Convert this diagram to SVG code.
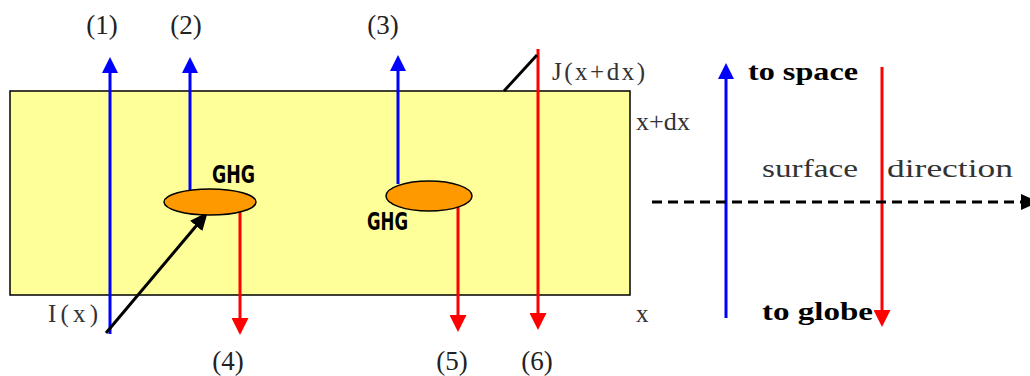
<svg xmlns="http://www.w3.org/2000/svg" width="1030" height="376" viewBox="0 0 1030 376">
<defs>
<style>
.lbl{font-family:"Liberation Serif",serif;font-size:27px;fill:#222;text-anchor:middle}
.ser{font-family:"Liberation Serif",serif;font-size:25px;fill:#333}
.bold{font-family:"Liberation Serif",serif;font-size:26px;font-weight:bold;fill:#000}
.ghg{font-family:"DejaVu Sans Condensed","DejaVu Sans",sans-serif;font-size:25px;font-weight:bold;fill:#000}
.blue{stroke:#0000FF;stroke-width:3;fill:none}
.red{stroke:#FF0000;stroke-width:3;fill:none}
.blk{stroke:#000;stroke-width:3;fill:none}
</style>
<marker id="hb" markerUnits="userSpaceOnUse" markerWidth="16" markerHeight="16" viewBox="0 0 16 16" refX="8" refY="8" orient="auto"><path d="M0,0L16,8L0,16z" fill="#0000FF"/></marker>
<marker id="hr" markerUnits="userSpaceOnUse" markerWidth="17" markerHeight="17" viewBox="0 0 17 17" refX="8" refY="8.5" orient="auto"><path d="M0,0L17,8.5L0,17z" fill="#FF0000"/></marker>
<marker id="hk" markerUnits="userSpaceOnUse" markerWidth="18" markerHeight="16" viewBox="0 0 18 16" refX="9" refY="8" orient="auto"><path d="M0,0L18,8L0,16z" fill="#000"/></marker>
</defs>
<rect width="1030" height="376" fill="#fff"/>
<g id="layer">
<rect x="10" y="91" width="620" height="204" fill="#FFFF99" stroke="#000" stroke-width="1.5"/>
</g>
<g id="connectors">
<line class="blue" x1="110" y1="334" x2="110" y2="65" marker-end="url(#hb)"/>
<line class="blue" x1="190" y1="192" x2="190" y2="65" marker-end="url(#hb)"/>
<line class="blue" x1="398" y1="184" x2="398" y2="63" marker-end="url(#hb)"/>
<line class="red" x1="240" y1="212" x2="240" y2="326" marker-end="url(#hr)"/>
<line class="red" x1="458" y1="205" x2="458" y2="323" marker-end="url(#hr)"/>
<line class="red" x1="538" y1="49" x2="538" y2="321" marker-end="url(#hr)"/>
<line class="blk" x1="106" y1="333" x2="202" y2="219" marker-end="url(#hk)"/>
<line class="blk" x1="504" y1="91" x2="537" y2="55"/>
<line class="blue" x1="726" y1="318" x2="726" y2="71" marker-end="url(#hb)"/>
<line class="red" x1="882" y1="67" x2="882" y2="318" marker-end="url(#hr)"/>
<line class="blk" x1="652" y1="202" x2="1030" y2="202" stroke-dasharray="10,6" marker-end="url(#hk)"/>
</g>
<g id="ghg1">
<ellipse cx="210" cy="202" rx="46" ry="13" fill="#FF9900" stroke="#000" stroke-width="1.5"/>
<text class="ghg" x="212" y="183" textLength="43" lengthAdjust="spacingAndGlyphs">GHG</text>
</g>
<g id="ghg2">
<ellipse cx="429" cy="196" rx="43" ry="15" fill="#FF9900" stroke="#000" stroke-width="1.5"/>
<text class="ghg" x="367" y="230" textLength="41" lengthAdjust="spacingAndGlyphs">GHG</text>
</g>
<g id="labels">
<text class="lbl" x="102" y="34">(1)</text>
<text class="lbl" x="186" y="34">(2)</text>
<text class="lbl" x="383" y="34">(3)</text>
<text class="lbl" x="228" y="370">(4)</text>
<text class="lbl" x="452" y="370">(5)</text>
<text class="lbl" x="537" y="370">(6)</text>
<text class="ser" x="48" y="322" textLength="50">I(x)</text>
<text class="ser" x="552" y="80" textLength="93">J(x+dx)</text>
<text class="ser" x="636" y="130" textLength="54" lengthAdjust="spacingAndGlyphs">x+dx</text>
<text class="ser" x="636" y="322">x</text>
</g>
<g id="legend">
<text class="bold" x="748" y="80" textLength="110" lengthAdjust="spacingAndGlyphs">to space</text>
<text class="bold" x="762" y="320" textLength="111" lengthAdjust="spacingAndGlyphs">to globe</text>
<text class="ser" x="762" y="177" textLength="96" lengthAdjust="spacingAndGlyphs">surface</text>
<text class="ser" x="887" y="177" textLength="126" lengthAdjust="spacingAndGlyphs">direction</text>
</g>
</svg>
